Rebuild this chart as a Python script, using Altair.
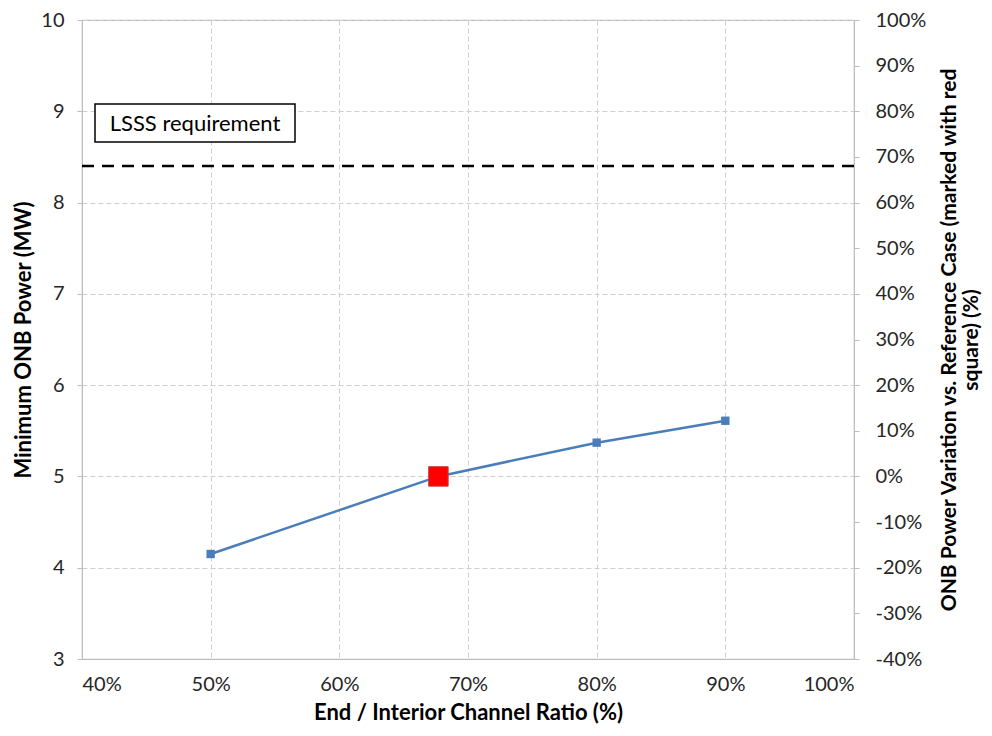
import altair as alt
import pandas as pd

# ---- data ----
ratio_pct = [50, 67.7, 80, 90]           # End / Interior channel ratio (%)
onb_power = [4.15, 5.0, 5.37, 5.61]      # Minimum ONB power (MW)
marker_ratio = [50, 80, 90]
marker_power = [4.15, 5.37, 5.61]
ref_ratio = [67.7]
ref_power = [5.0]
lsss_value = [8.4]
lsss_label = "LSSS requirement"
x_ticks = [40, 50, 60, 70, 80, 90, 100]
y_ticks = [3, 4, 5, 6, 7, 8, 9, 10]
pct_ticks = [-40, -30, -20, -10, 0, 10, 20, 30, 40, 50, 60, 70, 80, 90, 100]

FONT = "Lato"
BLUE = "#4a7ebb"
GRID = "#cfcfcf"
AXIS = "#bdbdbd"

line_df = pd.DataFrame({"ratio": ratio_pct, "power": onb_power})
mark_df = pd.DataFrame({"ratio": marker_ratio, "power": marker_power})
ref_df = pd.DataFrame({"ratio": ref_ratio, "power": ref_power})
lsss_df = pd.DataFrame({"power": lsss_value})
pct_df = pd.DataFrame({"ratio": ratio_pct,
                       "pct": [(v - ref_power[0]) / ref_power[0] * 100 for v in onb_power]})

x_enc = alt.X("ratio:Q",
              scale=alt.Scale(domain=[40, 100], nice=False),
              axis=alt.Axis(values=x_ticks, labelExpr="datum.value + '%'",
                            title="End / Interior Channel Ratio (%)",
                            tickSize=0, labelPadding=15, titlePadding=8,
                            grid=True, gridDash=[5, 3], gridColor=GRID,
                            domainColor=AXIS))

y_scale = alt.Scale(domain=[3, 10], nice=False)
y_axis = alt.Axis(values=y_ticks, format="d", title="Minimum ONB Power (MW)",
                  tickSize=5, tickColor=AXIS, labelPadding=13, titlePadding=5,
                  grid=True, gridDash=[5, 3], gridColor=GRID, domainColor=AXIS)

line = alt.Chart(line_df).mark_line(color=BLUE, strokeWidth=2.5).encode(
    x=x_enc, y=alt.Y("power:Q", scale=y_scale, axis=y_axis))

markers = alt.Chart(mark_df).mark_square(color=BLUE, size=70, opacity=1).encode(
    x="ratio:Q", y=alt.Y("power:Q", scale=y_scale))

ref = alt.Chart(ref_df).mark_square(color="#ff0000", size=380, opacity=1,
                                    stroke="#c04040", strokeWidth=1).encode(
    x="ratio:Q", y=alt.Y("power:Q", scale=y_scale))

lsss = alt.Chart(lsss_df).mark_rule(color="black", strokeWidth=2.5,
                                    strokeDash=[12, 8]).encode(
    y=alt.Y("power:Q", scale=y_scale))

box = alt.Chart(lsss_df).mark_rect(fill="white", stroke="black",
                                   strokeWidth=1.5).encode(
    x=alt.value(13), x2=alt.value(213), y=alt.value(84), y2=alt.value(122))

box_text = alt.Chart(lsss_df).mark_text(text=lsss_label, font=FONT, fontSize=22,
                                        color="black", align="center",
                                        baseline="middle").encode(
    x=alt.value(113), y=alt.value(104))

left = alt.layer(line, markers, ref, lsss, box, box_text)

right = alt.Chart(pct_df).mark_point(opacity=0).encode(
    x="ratio:Q",
    y=alt.Y("pct:Q", scale=alt.Scale(domain=[-40, 100], nice=False),
            axis=alt.Axis(orient="right", values=pct_ticks,
                          labelExpr="datum.value + '%'",
                          title=["ONB Power Variation vs. Reference Case (marked with red",
                                 "square) (%)"],
                          titleAngle=270, titleBaseline="bottom",
                          titleFontSize=21, titleLineHeight=22,
                          tickSize=5, tickColor=AXIS, domainColor=AXIS,
                          labelPadding=16, titlePadding=12, grid=False)))

chart = alt.layer(left, right).resolve_scale(y="independent").properties(
    width=772, height=639,
    background="white",
    autosize=alt.AutoSizeParams(type="none"),
    padding={"left": 74, "top": 12, "right": 130, "bottom": 69},
).configure_view(stroke=AXIS, strokeWidth=1.2).configure_axis(
    labelFont=FONT, labelFontSize=20, labelColor="#262626",
    titleFont=FONT, titleFontSize=22, titleFontWeight="bold", titleColor="black",
)

chart.save("out.html", embed_options={"renderer": "svg", "actions": False})
